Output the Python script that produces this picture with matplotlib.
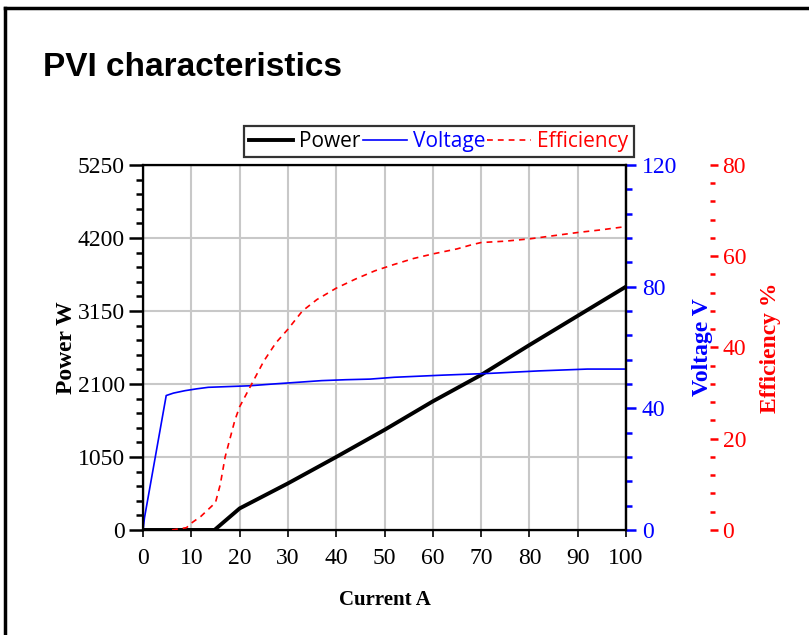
import numpy as np
import matplotlib
matplotlib.use("Agg")
import matplotlib.pyplot as plt
from matplotlib.lines import Line2D
from matplotlib.ticker import MultipleLocator

# values
power_current = [0, 14.8, 20, 30, 40, 50, 60, 70, 80, 90, 100]
power_watts = [0, 0, 310, 670, 1050, 1440, 1850, 2230, 2660, 3080, 3500]

volt_current = [0, 0.3, 4.8, 6.3, 8.7, 11.1, 13.5, 22, 27, 37, 42, 47, 52, 62, 72, 82, 92, 100]
volt_values = [0, 4, 44.2, 45.0, 45.8, 46.4, 46.9, 47.4, 48.0, 49.1, 49.4, 49.6, 50.2,
               50.9, 51.5, 52.3, 52.9, 52.9]

eff_current = [6, 9, 10, 12, 13.5, 15, 16, 17, 18, 19, 20, 21.5, 23, 25, 27.5, 30, 33, 36,
               40, 44, 48, 52, 56, 60, 65, 68, 70, 75, 80, 85, 90, 95, 100]
eff_values = [0, 0.5, 1.5, 3, 4.5, 6, 10, 16, 20, 24, 27, 30, 33, 37, 41, 44, 48, 50.5,
              53, 55, 56.8, 58.2, 59.5, 60.5, 61.6, 62.5, 63, 63.3, 63.8, 64.5, 65.2, 65.8, 66.5]

x_ticks = np.arange(0, 101, 10)
power_ticks = np.arange(0, 5251, 1050)
volt_ticks = [0, 40, 80, 120]
eff_ticks = [0, 20, 40, 60, 80]

serif = "Liberation Serif"
blue = "#0000ff"
red = "#ff0000"

fig = plt.figure(figsize=(8.09, 6.35), dpi=100)
ax = fig.add_axes([0.1768, 0.1654, 0.597, 0.5748])

ax.plot(power_current, power_watts, color="black", lw=2.8, label="Power", zorder=5)
ax.set_xlim(0, 100)
ax.set_ylim(0, 5250)
ax.set_xticks(x_ticks)
ax.set_yticks(power_ticks)
ax.yaxis.set_minor_locator(MultipleLocator(210))
ax.grid(True, color="#c8c8c8", lw=1.5)
ax.set_axisbelow(True)
for sp in ax.spines.values():
    sp.set_linewidth(1.6)
ax.tick_params(axis="y", which="major", length=10, width=1.8, pad=3)
ax.tick_params(axis="y", which="minor", length=5, width=1.8)
ax.tick_params(axis="x", length=5, width=1.2, pad=8)
for lab in ax.get_xticklabels() + ax.get_yticklabels():
    lab.set_fontfamily(serif)
    lab.set_fontsize(17)
ax.set_xlabel("Current A", fontfamily=serif, fontsize=15, fontweight="bold", labelpad=15)
ax.set_ylabel("Power W", fontfamily=serif, fontsize=17, fontweight="bold")
ax.yaxis.set_label_coords(-0.137, 0.5)

# voltage axis
ax2 = ax.twinx()
ax2.plot(volt_current, volt_values, color=blue, lw=1.2, label="Voltage")
ax2.set_ylim(0, 120)
ax2.set_yticks(volt_ticks)
ax2.yaxis.set_minor_locator(MultipleLocator(8))
ax2.tick_params(axis="y", which="major", colors=blue, length=7.5, width=1.8, pad=4)
ax2.tick_params(axis="y", which="minor", colors=blue, length=4.5, width=1.8)
ax2.spines["right"].set_color("black")
ax2.spines["right"].set_linewidth(1.6)
for lab in ax2.get_yticklabels():
    lab.set_fontfamily(serif)
    lab.set_fontsize(17)
    lab.set_color(blue)
ax2.set_ylabel("Voltage V", fontfamily=serif, fontsize=17, fontweight="bold", color=blue)
ax2.yaxis.set_label_coords(1.137, 0.5)

# efficiency axis
ax3 = ax.twinx()
ax3.spines["right"].set_position(("axes", 1.174))
ax3.spines["right"].set_visible(False)
ax3.plot(eff_current, eff_values, color=red, lw=1.2, ls=(0, (3.5, 3)), label="Efficiency")
ax3.set_ylim(0, 80)
ax3.set_yticks(eff_ticks)
ax3.yaxis.set_minor_locator(MultipleLocator(4))
ax3.tick_params(axis="y", which="major", colors=red, length=6, width=1.8, pad=3)
ax3.tick_params(axis="y", which="minor", colors=red, length=3.5, width=1.8)
for lab in ax3.get_yticklabels():
    lab.set_fontfamily(serif)
    lab.set_fontsize(17)
    lab.set_color(red)
ax3.set_ylabel("Efficiency %", fontfamily=serif, fontsize=17, fontweight="bold", color=red)
ax3.yaxis.set_label_coords(1.277, 0.5)

handles = ax.get_lines()[:1] + ax2.get_lines() + ax3.get_lines()
leg = fig.legend(handles=handles, loc="upper center", bbox_to_anchor=(0.5426, 0.8016),
                 ncol=3, frameon=True, fancybox=False, edgecolor="black",
                 prop={"family": "Open Sans", "size": 15}, handlelength=2.1,
                 handletextpad=0.3, columnspacing=0.1, borderpad=0.25,
                 labelcolor="linecolor", borderaxespad=0)
leg.get_frame().set_linewidth(1.6)

fig.text(0.053, 0.893, "PVI characteristics", fontfamily="Liberation Sans",
         fontsize=24, fontweight="bold", va="center", ha="left")

# outer frame (top and left edge of the original picture)
fig.add_artist(Line2D([0.0062, 1.0], [0.9874, 0.9874], transform=fig.transFigure,
                      color="black", lw=2.5))
fig.add_artist(Line2D([0.0062, 0.0062], [0.0, 0.9874], transform=fig.transFigure,
                      color="black", lw=2.5))

fig.savefig("out.png", dpi=100)
